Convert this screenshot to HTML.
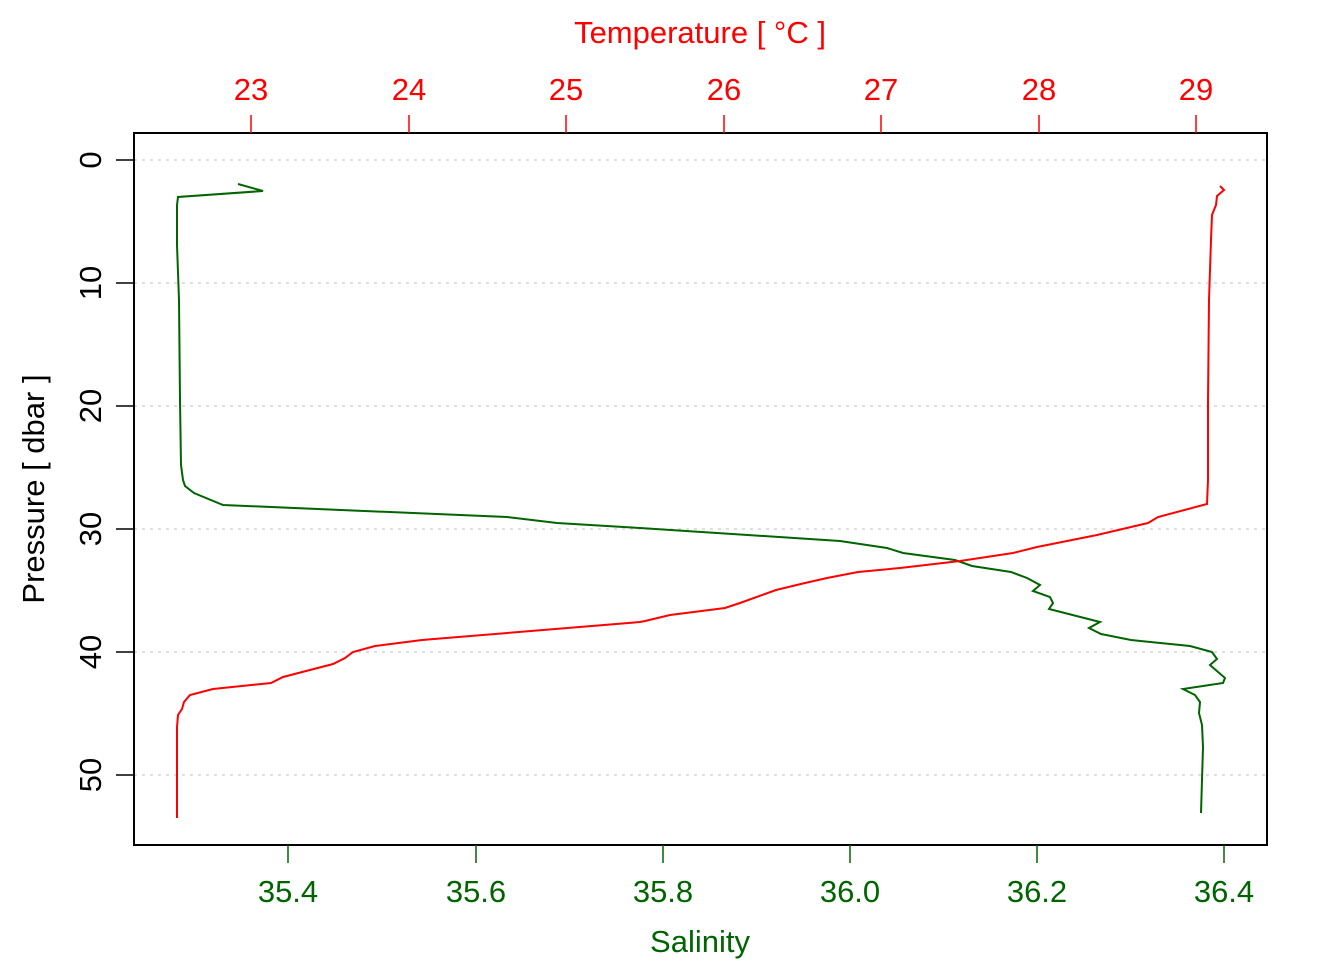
<!DOCTYPE html>
<html><head><style>body{margin:0;background:#fff}</style></head><body>
<svg width="1344" height="960" xmlns="http://www.w3.org/2000/svg" font-family="Liberation Sans, sans-serif">
<g stroke="#d3d3d3" stroke-width="1.5" stroke-dasharray="3,5">
<line x1="134" x2="1267" y1="160" y2="160"/><line x1="134" x2="1267" y1="283" y2="283"/><line x1="134" x2="1267" y1="406" y2="406"/><line x1="134" x2="1267" y1="529" y2="529"/><line x1="134" x2="1267" y1="652" y2="652"/><line x1="134" x2="1267" y1="775" y2="775"/>
</g>
<rect x="134" y="133" width="1133" height="712" fill="none" stroke="#000" stroke-width="2"/>
<g stroke="#000" stroke-width="1.5">
<line x1="116" x2="134" y1="160" y2="160"/><line x1="116" x2="134" y1="283" y2="283"/><line x1="116" x2="134" y1="406" y2="406"/><line x1="116" x2="134" y1="529" y2="529"/><line x1="116" x2="134" y1="652" y2="652"/><line x1="116" x2="134" y1="775" y2="775"/>
</g>
<g font-size="31" fill="#000" text-anchor="middle">
<text transform="translate(101,160) rotate(-90)">0</text>
<text transform="translate(101,283) rotate(-90)">10</text>
<text transform="translate(101,406) rotate(-90)">20</text>
<text transform="translate(101,529) rotate(-90)">30</text>
<text transform="translate(101,652) rotate(-90)">40</text>
<text transform="translate(101,775) rotate(-90)">50</text>
<text transform="translate(44,489) rotate(-90)">Pressure [ dbar ]</text>
</g>
<g stroke="#006400" stroke-width="1.5">
<line x1="288" x2="288" y1="845" y2="863"/><line x1="476" x2="476" y1="845" y2="863"/><line x1="663" x2="663" y1="845" y2="863"/><line x1="850" x2="850" y1="845" y2="863"/><line x1="1037" x2="1037" y1="845" y2="863"/><line x1="1224" x2="1224" y1="845" y2="863"/>
</g>
<g font-size="31" fill="#006400" text-anchor="middle">
<text x="288" y="902">35.4</text><text x="476" y="902">35.6</text><text x="663" y="902">35.8</text><text x="850" y="902">36.0</text><text x="1037" y="902">36.2</text><text x="1224" y="902">36.4</text>
<text x="700" y="952">Salinity</text>
</g>
<g stroke="#f00" stroke-width="1.5">
<line x1="251" x2="251" y1="115" y2="133"/><line x1="409" x2="409" y1="115" y2="133"/><line x1="566" x2="566" y1="115" y2="133"/><line x1="724" x2="724" y1="115" y2="133"/><line x1="881" x2="881" y1="115" y2="133"/><line x1="1039" x2="1039" y1="115" y2="133"/><line x1="1196" x2="1196" y1="115" y2="133"/>
</g>
<g font-size="31" fill="#f00" text-anchor="middle">
<text x="251" y="100">23</text><text x="409" y="100">24</text><text x="566" y="100">25</text><text x="724" y="100">26</text><text x="881" y="100">27</text><text x="1039" y="100">28</text><text x="1196" y="100">29</text>
<text x="700" y="43">Temperature [ °C ]</text>
</g>
<polyline fill="none" stroke="#006400" stroke-width="2" points="238,184 263,191 178,197 177,205 177,245 179,300 180,400 181,465 183,480 185,486 194,493 223,505 507,517 557,523 640,528 840,541 887,548 903,553 955,560 972,566 1011,572 1027,578 1040,585 1033,591 1050,597 1053,603 1049,609 1100,622 1089,628 1101,634 1131,640 1190,646 1212,652 1217,659 1210,665 1225,678 1223,683 1183,689 1195,695 1200,702 1199,713 1202,725 1203,747 1201,813"/>
<polyline fill="none" stroke="#f00" stroke-width="2" points="1220,186 1224,190 1217,196 1216,205 1212,215 1211,240 1209,300 1208,400 1208,480 1207,504 1158,517 1148,523 1097,535 1037,547 1013,553 960,561 900,568 858,572 827,578 805,583 776,590 740,603 725,608 670,615 645,621 640,622 422,640 375,646 353,652 345,658 333,664 283,677 271,683 213,689 190,695 184,702 182,709 178,715 177,727 177,818"/>
</svg>
</body></html>
